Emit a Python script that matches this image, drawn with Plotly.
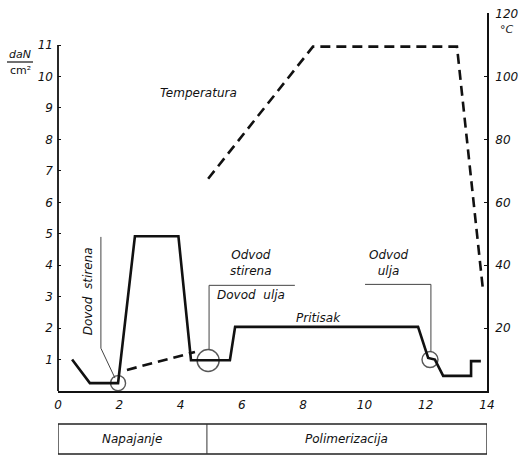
import plotly.graph_objects as go

# ---- data ----
# Pressure (daN/cm2) vs time (h)
p_time = [0.46, 1.04, 1.96, 2.51, 3.93, 4.34, 5.61, 5.78, 11.75, 12.08, 12.3, 12.57, 13.48, 13.48, 13.8]
p_value = [1.0, 0.25, 0.25, 4.92, 4.92, 0.98, 0.98, 2.04, 2.04, 1.05, 1.0, 0.48, 0.48, 0.95, 0.95]

# Temperature (°C) vs time (h)
t_time = [4.9, 8.32, 13.02, 13.87]
t_value = [67.5, 109.5, 109.5, 32.0]
t2_time = [2.25, 4.47]
t2_value = [6.7, 12.4]

# marked points (circles)
c_time = [1.96, 4.9, 12.14]
c_value = [0.25, 0.97, 1.0]
c_size = [15, 22, 16]

x_ticks = [0, 2, 4, 6, 8, 10, 12, 14]
y_ticks = list(range(1, 12))
y2_ticks = [20, 40, 60, 80, 100, 120]

phases = ["Napajanje", "Polimerizacija"]
phase_bounds = [0, 4.86, 14]

FONT = "DejaVu Sans"
W, H = 520, 458
PAGE_L, PAGE_R, PAGE_T, PAGE_B = 58, 487, 13, 391  # plot area in page pixels
L, T, R, B = PAGE_L, PAGE_T, W - PAGE_R, H - PAGE_B
PW, PH = PAGE_R - PAGE_L, PAGE_B - PAGE_T


def px(xp):
    return (xp - PAGE_L) / PW


def py(yp):
    return (PAGE_B - yp) / PH


fig = go.Figure()

fig.add_trace(go.Scatter(x=p_time, y=p_value, mode="lines",
                         line=dict(color="#111", width=2.6), hoverinfo="skip"))
fig.add_trace(go.Scatter(x=t_time, y=t_value, mode="lines", yaxis="y2",
                         line=dict(color="#111", width=2.6, dash="10px,6px"), hoverinfo="skip"))
fig.add_trace(go.Scatter(x=t2_time, y=t2_value, mode="lines", yaxis="y2",
                         line=dict(color="#111", width=2.6, dash="10px,6px"), hoverinfo="skip"))
fig.add_trace(go.Scatter(x=c_time, y=c_value, mode="markers",
                         marker=dict(symbol="circle-open", size=c_size, color="#111",
                                     line=dict(width=1.4, color="#111")), hoverinfo="skip"))

thin = dict(color="#444", width=1)
shapes = [
    # left axis line (0..11)
    dict(type="line", xref="paper", yref="y", x0=0, x1=0, y0=0, y1=11,
         line=dict(color="#111", width=1.8)),
    # Dovod stirena leader
    dict(type="line", xref="x", yref="y", x0=1.40, x1=1.40, y0=4.9, y1=1.36, line=thin),
    dict(type="line", xref="x", yref="y", x0=1.40, x1=1.86, y0=1.36, y1=0.41, line=thin),
    # Odvod stirena / Dovod ulja leader
    dict(type="line", xref="x", yref="y", x0=4.93, x1=7.73, y0=3.36, y1=3.36, line=thin),
    dict(type="line", xref="x", yref="y", x0=4.93, x1=4.93, y0=3.36, y1=1.32, line=thin),
    # Odvod ulja leader
    dict(type="line", xref="x", yref="y", x0=10.02, x1=12.17, y0=3.39, y1=3.39, line=thin),
    dict(type="line", xref="x", yref="y", x0=12.17, x1=12.17, y0=3.39, y1=1.25, line=thin),
    # daN / cm2 fraction bar
    dict(type="line", xref="paper", yref="paper", x0=px(7), x1=px(33), y0=py(62), y1=py(62),
         line=dict(color="#111", width=1.2)),
]

# phase band
yb0, yb1 = py(454), py(424)
shapes.append(dict(type="rect", xref="x", yref="paper", x0=phase_bounds[0], x1=phase_bounds[-1],
                   y0=yb0, y1=yb1, line=dict(color="#222", width=1.3)))
for b in phase_bounds[1:-1]:
    shapes.append(dict(type="line", xref="x", yref="paper", x0=b, x1=b, y0=yb0, y1=yb1,
                       line=dict(color="#333", width=1)))

ann_font = dict(family=FONT, size=12, color="#111", style="italic")
C = dict(showarrow=False, xanchor="center", yanchor="middle")
annotations = [
    dict(x=4.57, y=9.48, xref="x", yref="y", text="Temperatura", font=ann_font, **C),
    dict(x=8.49, y=2.31, xref="x", yref="y", text="Pritisak", font=ann_font, **C),
    dict(x=0.98, y=3.17, xref="x", yref="y", text="Dovod  stirena",
         textangle=-90, font=ann_font, **C),
    dict(x=6.3, y=4.08, xref="x", yref="y", text="Odvod<br>stirena",
         font=ann_font, align="center", **C),
    dict(x=6.3, y=3.05, xref="x", yref="y", text="Dovod  ulja", font=ann_font, **C),
    dict(x=10.8, y=4.08, xref="x", yref="y", text="Odvod<br>ulja",
         font=ann_font, align="center", **C),
    dict(x=px(20), y=py(54), xref="paper", yref="paper", text="daN",
         font=dict(family=FONT, size=11, color="#111", style="italic"), **C),
    dict(x=px(20), y=py(70), xref="paper", yref="paper", text="cm²",
         font=dict(family=FONT, size=11, color="#111"), **C),
    dict(x=px(507), y=py(29), xref="paper", yref="paper", text="°C",
         font=dict(family=FONT, size=11, color="#111", style="italic"), **C),
]
for i, name in enumerate(phases):
    annotations.append(dict(x=(phase_bounds[i] + phase_bounds[i + 1]) / 2, y=(yb0 + yb1) / 2,
                            xref="x", yref="paper", text=name, font=ann_font, **C))

tick_font = dict(family=FONT, size=12, color="#111", style="italic")
fig.update_layout(
    width=W, height=H, autosize=False,
    margin=dict(l=L, r=R, t=T, b=B, pad=0, autoexpand=False),
    paper_bgcolor="white", plot_bgcolor="white",
    showlegend=False,
    xaxis=dict(range=[0, 14], tickvals=x_ticks, ticktext=[str(v) for v in x_ticks],
               showline=True, linecolor="#111", linewidth=1.8, showgrid=False, zeroline=False,
               ticks="", tickfont=tick_font, ticklabelstandoff=2, automargin=False),
    yaxis=dict(range=[0, 12.02], tickvals=y_ticks, ticktext=[str(v) for v in y_ticks],
               showline=False, showgrid=False, zeroline=False, ticks="inside", ticklen=3,
               tickcolor="#111", tickfont=tick_font, ticklabelstandoff=4, automargin=False),
    yaxis2=dict(range=[0, 120.2], overlaying="y", side="right", tickvals=y2_ticks,
                ticktext=[str(v) for v in y2_ticks], showline=True, linecolor="#111",
                linewidth=1.8, showgrid=False, zeroline=False, ticks="inside", ticklen=3,
                tickcolor="#111", tickfont=tick_font, ticklabelstandoff=4, automargin=False),
    shapes=shapes,
    annotations=annotations,
)

fig.write_html(
    "out.html",
    config={"displayModeBar": False},
    post_script="document.body.style.margin='0';document.body.style.overflow='hidden';",
)
